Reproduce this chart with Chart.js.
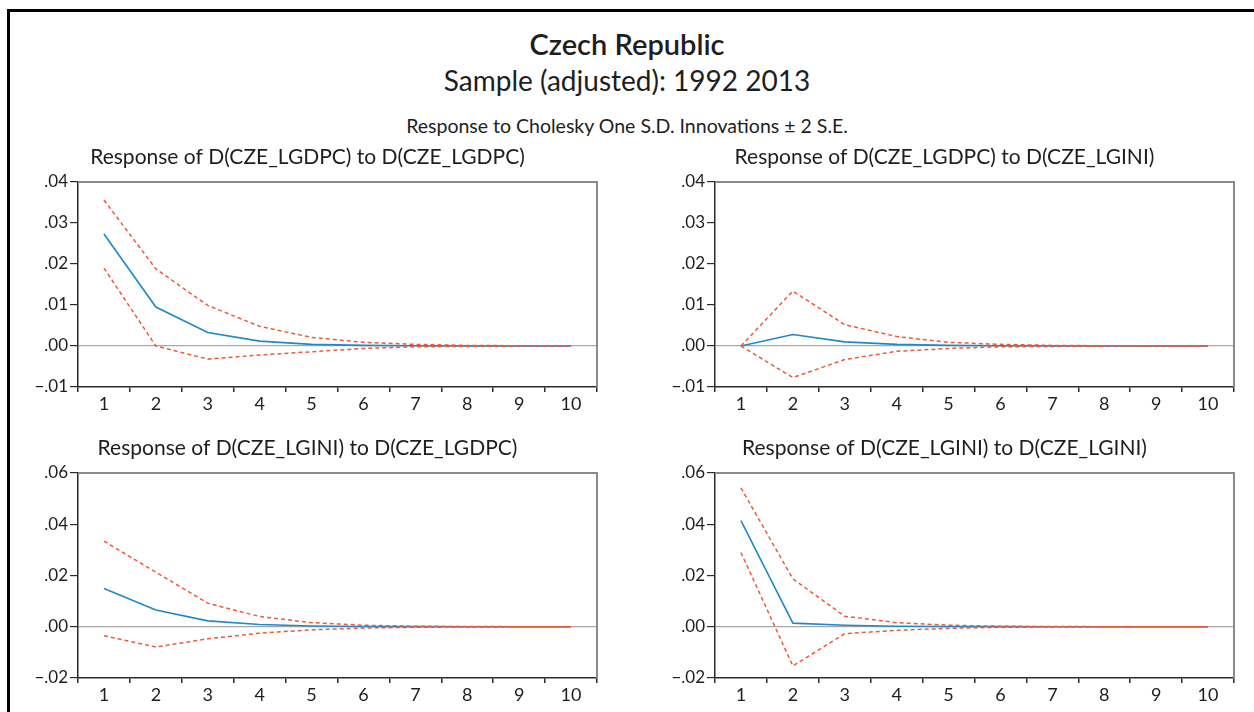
<!DOCTYPE html>
<html>
<head>
<meta charset="utf-8">
<script src="https://cdn.jsdelivr.net/npm/chart.js@4.4.1/dist/chart.umd.min.js"></script>
<style>
  html, body { margin: 0; padding: 0; background: #fff; }
  body { width: 1254px; height: 712px; position: relative; overflow: hidden;
         font-family: Lato, "Open Sans", sans-serif; color: #1e1e1e; }
  .frame { position: absolute; left: 7px; top: 9px; right: -10px; bottom: -10px;
           border-top: 3px solid #000; border-left: 3px solid #000; }
  .head { position: absolute; left: 0; width: 1254px; text-align: center; white-space: nowrap; }
  #h1 { top: 28px; font-size: 29px; line-height: 32px; font-weight: 600; }
  #h2 { top: 64px; font-size: 28px; line-height: 32px; }
  #h3 { top: 115px; font-size: 19.5px; line-height: 22px; }
  .panel { position: absolute; width: 600px; height: 280px; }
</style>
</head>
<body>
<div class="frame"></div>
<div class="head" id="h1">Czech Republic</div>
<div class="head" id="h2">Sample (adjusted): 1992 2013</div>
<div class="head" id="h3">Response to Cholesky One S.D. Innovations ± 2 S.E.</div>

<div class="panel" style="left:10px;top:140px"><canvas id="c1"></canvas></div>
<div class="panel" style="left:647px;top:140px"><canvas id="c2"></canvas></div>
<div class="panel" style="left:10px;top:431px"><canvas id="c3"></canvas></div>
<div class="panel" style="left:647px;top:431px"><canvas id="c4"></canvas></div>

<script>
// periods of the impulse response
const periods = ['1', '2', '3', '4', '5', '6', '7', '8', '9', '10'];

// Response of D(CZE_LGDPC) to D(CZE_LGDPC)
const respGdpGdp = [0.0273, 0.0095, 0.0033, 0.0012, 0.0004, 0.00015, 0.00005, 0.00002, 0.00001, 0];
const upGdpGdp   = [0.0356, 0.0188, 0.0099, 0.0048, 0.0021, 0.0009, 0.0004, 0.00015, 0.00006, 0.00002];
const loGdpGdp   = [0.0190, 0.0000, -0.0032, -0.0022, -0.0014, -0.0006, -0.0002, -0.0001, -0.00003, -0.00001];

// Response of D(CZE_LGDPC) to D(CZE_LGINI)
const respGdpGini = [0, 0.0028, 0.0010, 0.0004, 0.00015, 0.00005, 0.00002, 0.00001, 0, 0];
const upGdpGini   = [0, 0.0134, 0.0052, 0.0023, 0.0009, 0.0004, 0.00015, 0.00006, 0.00002, 0.00001];
const loGdpGini   = [0, -0.0077, -0.0033, -0.0013, -0.0006, -0.0002, -0.0001, -0.00003, -0.00001, 0];

// Response of D(CZE_LGINI) to D(CZE_LGDPC)
const respGiniGdp = [0.0149, 0.0065, 0.0023, 0.0009, 0.0003, 0.0001, 0.00004, 0.00001, 0, 0];
const upGiniGdp   = [0.0334, 0.0213, 0.0092, 0.0040, 0.0016, 0.0006, 0.0002, 0.0001, 0.00003, 0.00001];
const loGiniGdp   = [-0.0035, -0.0079, -0.0047, -0.0025, -0.0012, -0.0005, -0.0002, -0.0001, -0.00003, -0.00001];

// Response of D(CZE_LGINI) to D(CZE_LGINI)
const respGiniGini = [0.0414, 0.0014, 0.0006, 0.0002, 0.0001, 0.00003, 0.00001, 0, 0, 0];
const upGiniGini   = [0.0542, 0.0187, 0.0041, 0.0016, 0.0006, 0.0002, 0.0001, 0.00003, 0.00001, 0];
const loGiniGini   = [0.0290, -0.0153, -0.0027, -0.0014, -0.0006, -0.0002, -0.0001, -0.00003, -0.00001, 0];

const BLUE = '#1f88c6';
const RED = '#ee5a3a';
const AXIS = '#2b2b2b';
const FONT = 'Lato, "Open Sans", sans-serif';

// EViews-style tick labels: .04, .00, −.01
const fmt = v => {
  const s = Math.abs(v).toFixed(2).replace(/^0/, '');
  return v < -1e-9 ? '\u2212' + s : s;
};

// grey top/right edges of the plot box
const boxPlugin = {
  id: 'box',
  afterDraw(chart) {
    const { ctx, chartArea: a } = chart;
    ctx.save();
    ctx.strokeStyle = '#8a8a8a';
    ctx.lineWidth = 2;
    ctx.beginPath();
    ctx.moveTo(a.left, a.top);
    ctx.lineTo(a.right, a.top);
    ctx.lineTo(a.right, a.bottom);
    ctx.stroke();
    ctx.restore();
  }
};

function panel(id, title, resp, up, lo, yMin, yMax, step) {
  const band = (data) => ({
    data, borderColor: RED, borderWidth: 1.5, borderDash: [4, 3],
    pointRadius: 0, tension: 0, fill: false
  });
  return new Chart(document.getElementById(id), {
    type: 'line',
    data: {
      labels: periods,
      datasets: [
        band(up),
        band(lo),
        { data: resp, borderColor: BLUE, borderWidth: 1.6, pointRadius: 0, tension: 0, fill: false }
      ]
    },
    options: {
      responsive: true,
      maintainAspectRatio: false,
      animation: false,
      events: [],
      layout: { padding: { left: 8, right: 13, top: 0, bottom: 3 } },
      plugins: {
        legend: { display: false },
        tooltip: { enabled: false },
        title: {
          display: true, text: title, color: '#1e1e1e',
          font: { family: FONT, size: 21, weight: 'normal' },
          padding: { top: 5, bottom: 11.8 }
        }
      },
      scales: {
        x: {
          type: 'category',
          offset: true,
          grid: { offset: true, drawOnChartArea: false, drawTicks: true, tickLength: 5,
                  tickColor: AXIS, lineWidth: 1.5 },
          border: { color: AXIS, width: 1.5 },
          ticks: { color: '#1e1e1e', font: { family: FONT, size: 18 }, padding: 1,
                   maxRotation: 0, autoSkip: false },
          afterFit: s => { s.height = 30; }
        },
        y: {
          min: yMin, max: yMax,
          grid: {
            color: c => (c.tick && Math.abs(c.tick.value) < 1e-9) ? '#a8a8a8' : 'rgba(0,0,0,0)',
            tickColor: AXIS, tickLength: 8, lineWidth: 1.2
          },
          border: { color: AXIS, width: 1.5 },
          ticks: { stepSize: step, callback: fmt, color: '#1e1e1e',
                   font: { family: FONT, size: 17 }, padding: 2 },
          afterFit: s => { s.width = 60; }
        }
      }
    },
    plugins: [boxPlugin]
  });
}

panel('c1', 'Response of D(CZE_LGDPC) to D(CZE_LGDPC)', respGdpGdp, upGdpGdp, loGdpGdp, -0.01, 0.04, 0.01);
panel('c2', 'Response of D(CZE_LGDPC) to D(CZE_LGINI)', respGdpGini, upGdpGini, loGdpGini, -0.01, 0.04, 0.01);
panel('c3', 'Response of D(CZE_LGINI) to D(CZE_LGDPC)', respGiniGdp, upGiniGdp, loGiniGdp, -0.02, 0.06, 0.02);
panel('c4', 'Response of D(CZE_LGINI) to D(CZE_LGINI)', respGiniGini, upGiniGini, loGiniGini, -0.02, 0.06, 0.02);
</script>
</body>
</html>
